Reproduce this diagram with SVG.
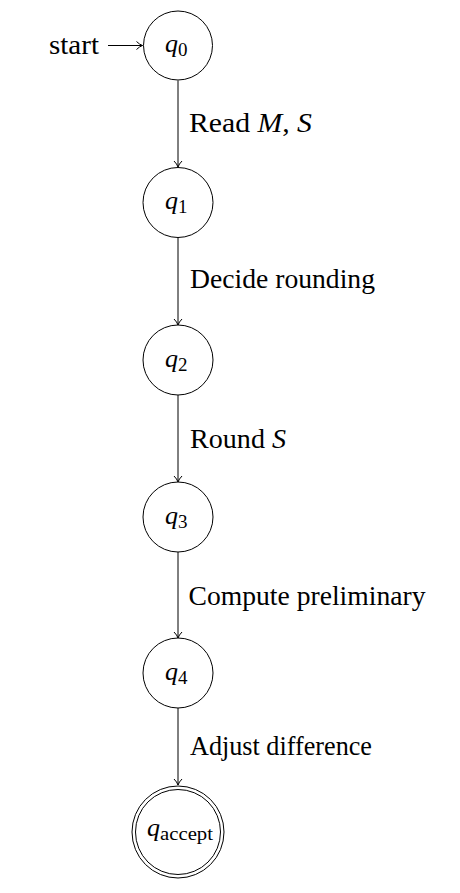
<svg xmlns="http://www.w3.org/2000/svg" width="460" height="893" viewBox="0 0 460 893" font-family="Liberation Serif, serif">
<style>
.st{fill:none;stroke:#000;stroke-width:1}
.lbl{font-size:27px;fill:#000}
.q{font-size:26px;font-style:italic;fill:#000}
.sub{font-size:19px;font-style:normal}
.it{font-style:italic}
.edge{fill:none;stroke:#000;stroke-width:1;marker-end:url(#to)}
</style>
<defs>
<marker id="to" markerWidth="12" markerHeight="12" refX="10" refY="6" orient="auto" markerUnits="userSpaceOnUse">
<path d="M4,2 Q7,5 10,6 Q7,7 4,10" fill="none" stroke="#000" stroke-width="1"/>
</marker>
</defs>
<rect width="460" height="893" fill="#fff"/>
<g id="connectors">
<line class="edge" x1="108" y1="45.5" x2="142.5" y2="45.5"/>
<line class="edge" x1="178" y1="80.5" x2="178" y2="167"/>
<line class="edge" x1="178" y1="237.5" x2="178" y2="325"/>
<line class="edge" x1="178" y1="395" x2="178" y2="482"/>
<line class="edge" x1="178" y1="552" x2="178" y2="638"/>
<line class="edge" x1="178" y1="708" x2="178" y2="785"/>
<text class="lbl" font-family="Liberation Serif, serif" x="189" y="132" textLength="123" lengthAdjust="spacingAndGlyphs">Read <tspan class="it">M</tspan>, <tspan class="it">S</tspan></text>
<text class="lbl" font-family="Liberation Serif, serif" x="190" y="288" textLength="185" lengthAdjust="spacingAndGlyphs">Decide rounding</text>
<text class="lbl" font-family="Liberation Serif, serif" x="190" y="448" textLength="96" lengthAdjust="spacingAndGlyphs">Round <tspan class="it">S</tspan></text>
<text class="lbl" font-family="Liberation Serif, serif" x="188.5" y="605" textLength="237" lengthAdjust="spacingAndGlyphs">Compute preliminary</text>
<text class="lbl" font-family="Liberation Serif, serif" x="190" y="755" textLength="182" lengthAdjust="spacingAndGlyphs">Adjust difference</text>
</g>
<g id="start">
<text class="lbl" font-family="Liberation Serif, serif" x="49" y="53.5" textLength="50" lengthAdjust="spacingAndGlyphs">start</text>
</g>
<g id="q0">
<circle class="st" cx="178" cy="45.5" r="34.5"/>
<text class="q" font-family="Liberation Serif, serif" x="165" y="52">q<tspan class="sub" dy="4">0</tspan></text>
</g>
<g id="q1">
<circle class="st" cx="178" cy="202.5" r="35"/>
<text class="q" font-family="Liberation Serif, serif" x="165" y="209">q<tspan class="sub" dy="4">1</tspan></text>
</g>
<g id="q2">
<circle class="st" cx="178" cy="360" r="35"/>
<text class="q" font-family="Liberation Serif, serif" x="165" y="366.5">q<tspan class="sub" dy="4">2</tspan></text>
</g>
<g id="q3">
<circle class="st" cx="178" cy="517" r="35"/>
<text class="q" font-family="Liberation Serif, serif" x="165" y="523.5">q<tspan class="sub" dy="4">3</tspan></text>
</g>
<g id="q4">
<circle class="st" cx="178" cy="673" r="35"/>
<text class="q" font-family="Liberation Serif, serif" x="165" y="679.5">q<tspan class="sub" dy="4">4</tspan></text>
</g>
<g id="qaccept">
<circle class="st" cx="178" cy="832" r="46"/>
<circle class="st" cx="178" cy="832" r="42.5"/>
<text class="q" font-family="Liberation Serif, serif" x="147" y="836">q<tspan class="sub" dy="4" textLength="53" lengthAdjust="spacingAndGlyphs">accept</tspan></text>
</g>
</svg>
